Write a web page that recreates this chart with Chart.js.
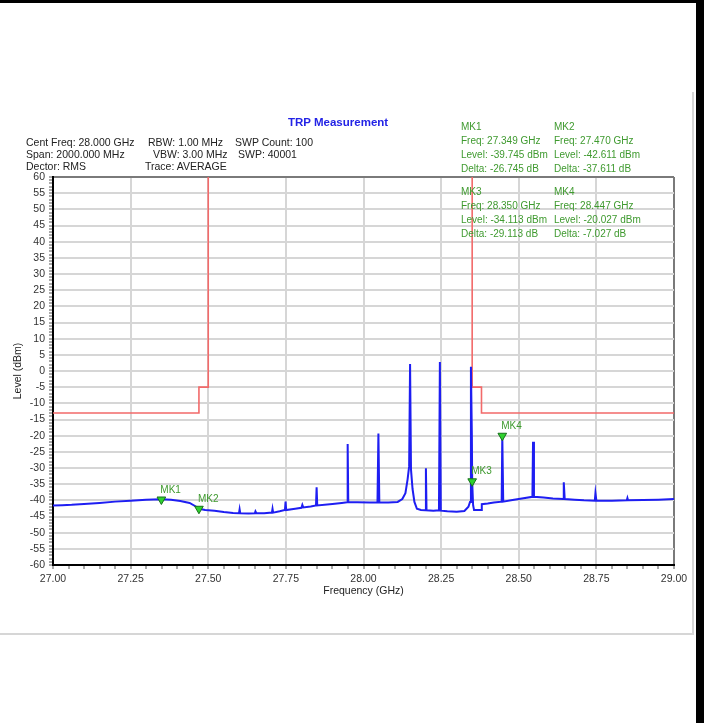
<!DOCTYPE html>
<html>
<head>
<meta charset="utf-8">
<script src="https://cdn.jsdelivr.net/npm/chart.js@4/dist/chart.umd.min.js"></script>
<style>
  html, body { margin: 0; padding: 0; background: #fff; }
  body { width: 704px; height: 723px; position: relative; overflow: hidden; font-family: "Liberation Sans", Arial, sans-serif; }
  #wrap { position: absolute; left: 0; top: 0; width: 704px; height: 723px; }
  .txt { position: absolute; white-space: pre; line-height: 12px; height: 12px; }
  .hdr { font-size: 10.5px; color: #222; }
  .mk { font-size: 10px; color: #3f9a2f; }
  #title { position: absolute; left: 288px; top: 116px; font-size: 11.5px; font-weight: bold; color: #2323e6; line-height: 13px; }
  #topbar { position: absolute; left: 0; top: 0; width: 704px; height: 3px; background: #000; }
  #rightbar { position: absolute; left: 696px; top: 0; width: 8px; height: 723px; background: #000; }
  #panel { position: absolute; left: -2px; top: 92px; width: 696px; height: 543px; box-sizing: border-box;
           border-right: 2px solid #d6d6d6; border-bottom: 2px solid #d6d6d6; }
</style>
</head>
<body>
<div id="panel"></div>
<div id="wrap"><canvas id="trp-chart"></canvas></div>
<div id="title">TRP Measurement</div>
<div id="topbar"></div>
<div id="rightbar"></div>
<script>
var traceFreq = [
  27.000, 27.030, 27.060, 27.100, 27.150, 27.200, 27.250, 27.300, 27.349, 27.380,
  27.410, 27.440, 27.460, 27.470, 27.490, 27.520, 27.550, 27.580, 27.599, 27.601,
  27.603, 27.630, 27.650, 27.652, 27.655, 27.680, 27.705, 27.707, 27.709, 27.730,
  27.747, 27.749, 27.751, 27.780, 27.800, 27.803, 27.806, 27.830, 27.847, 27.849,
  27.851, 27.900, 27.930, 27.947, 27.949, 27.951, 27.980, 28.020, 28.045, 28.048,
  28.051, 28.080, 28.110, 28.125, 28.135, 28.142, 28.147, 28.150, 28.153, 28.158,
  28.164, 28.172, 28.185, 28.199, 28.201, 28.203, 28.225, 28.243, 28.246, 28.249,
  28.270, 28.300, 28.325, 28.338, 28.343, 28.346, 28.349, 28.350, 28.353, 28.356,
  28.370, 28.379, 28.381, 28.400, 28.420, 28.445, 28.447, 28.450, 28.480, 28.510,
  28.544, 28.546, 28.549, 28.580, 28.610, 28.643, 28.645, 28.648, 28.680, 28.710,
  28.745, 28.747, 28.750, 28.800, 28.848, 28.850, 28.852, 28.900, 28.950, 29.000
];
var traceLevel = [
  -41.6, -41.5, -41.4, -41.1, -40.8, -40.4, -40.1, -39.8, -39.7, -39.8,
  -40.2, -40.8, -41.9, -42.6, -43.0, -43.2, -43.6, -43.9, -44.0, -42.8,
  -44.0, -44.1, -44.0, -43.4, -44.0, -44.0, -43.8, -42.6, -43.8, -43.4,
  -43.0, -40.4, -43.0, -42.6, -42.3, -41.4, -42.2, -41.9, -41.6, -36.0,
  -41.6, -41.1, -40.8, -40.6, -22.6, -40.6, -40.6, -40.7, -40.7, -19.3,
  -40.7, -40.7, -40.5, -39.6, -37.8, -33.5, -29.5, 2.2, -30.5, -36.5,
  -40.5, -42.6, -43.0, -43.1, -30.1, -43.1, -43.2, -43.1, 2.8, -43.2,
  -43.4, -43.5, -43.3, -42.0, -40.5, 1.3, -20.0, -34.1, -41.5, -43.0,
  -43.0, -43.0, -41.2, -41.0, -40.7, -40.4, -20.0, -40.4, -39.9, -39.4,
  -38.9, -21.9, -38.9, -39.1, -39.4, -39.6, -34.4, -39.6, -39.8, -40.0,
  -40.1, -37.8, -40.1, -40.1, -40.0, -39.3, -40.0, -39.9, -39.8, -39.6
];

// emission limit mask
var limitFreq = [27.0, 27.47, 27.47, 27.5, 27.5, 28.35, 28.35, 28.38, 28.38, 29.0];
var limitLevel = [-13, -13, -5, -5, 70, 70, -5, -5, -13, -13];

// markers
var markerNames = ['MK1', 'MK2', 'MK3', 'MK4'];
var markerFreq = [27.349, 27.470, 28.350, 28.447];
var markerLevel = [-39.745, -42.611, -34.113, -20.027];
var markerDelta = [-26.745, -37.611, -29.113, -7.027];

// header settings text
var settingsText = [
  'Cent Freq: 28.000 GHz', 'Span: 2000.000 MHz', 'Dector: RMS',
  'RBW: 1.00 MHz', 'VBW: 3.00 MHz', 'Trace: AVERAGE',
  'SWP Count: 100', 'SWP: 40001'
];

var xMin = 27, xMax = 29, yMin = -60, yMax = 60;

function addText(cls, text, x, yc) {
  var d = document.createElement('div');
  d.className = 'txt ' + cls;
  d.textContent = text;
  d.style.left = x + 'px';
  d.style.top = (yc - 6) + 'px';
  document.body.appendChild(d);
}

// settings block
var setPos = [[26, 142], [26, 154], [26, 166], [148, 142], [153, 154], [145, 166], [235, 142], [238, 154]];
settingsText.forEach(function (t, i) { addText('hdr', t, setPos[i][0], setPos[i][1]); });

// marker readout blocks
var mkCol = [461, 554, 461, 554];
var mkTop = [127, 127, 192, 192];
markerNames.forEach(function (n, i) {
  var x = mkCol[i], y = mkTop[i];
  addText('mk', n, x, y);
  addText('mk', 'Freq: ' + markerFreq[i].toFixed(3) + ' GHz', x, y + 14);
  addText('mk', 'Level: ' + markerLevel[i].toFixed(3) + ' dBm', x, y + 28);
  addText('mk', 'Delta: ' + markerDelta[i].toFixed(3) + ' dB', x, y + 42);
});

function pts(xs, ys) {
  return xs.map(function (x, i) { return { x: x, y: ys[i] }; });
}

var markerLabels = {
  id: 'markerLabels',
  afterDatasetsDraw: function (chart) {
    var ctx = chart.ctx, xs = chart.scales.x, ys = chart.scales.y;
    ctx.save();
    ctx.font = '10px "Liberation Sans", Arial, sans-serif';
    ctx.fillStyle = '#3f9a2f';
    ctx.textAlign = 'left';
    ctx.textBaseline = 'alphabetic';
    markerNames.forEach(function (n, i) {
      var px = xs.getPixelForValue(markerFreq[i]);
      var py = ys.getPixelForValue(markerLevel[i]);
      ctx.fillText(n, px - 1, py - 7);
    });
    ctx.restore();
  }
};

var fontSpec = { family: '"Liberation Sans", Arial, sans-serif', size: 10.5 };

var trpChart = new Chart(document.getElementById('trp-chart').getContext('2d'), {
  type: 'line',
  data: {
    datasets: [
      {
        label: 'Markers',
        data: pts(markerFreq, markerLevel),
        showLine: false,
        pointStyle: 'triangle',
        rotation: 180,
        pointRadius: 5,
        backgroundColor: '#2fd12f',
        borderColor: '#17701a',
        borderWidth: 1
      },
      {
        label: 'Trace',
        data: pts(traceFreq, traceLevel),
        borderColor: '#1e1ef2',
        borderWidth: 2,
        pointRadius: 0,
        tension: 0
      },
      {
        label: 'Limit',
        data: pts(limitFreq, limitLevel),
        borderColor: '#f26a6a',
        borderWidth: 1.6,
        pointRadius: 0,
        tension: 0
      }
    ]
  },
  options: {
    responsive: true,
    maintainAspectRatio: false,
    animation: false,
    devicePixelRatio: 1,
    events: [],
    layout: { padding: { left: 7, top: 177, right: 30, bottom: 124 } },
    plugins: {
      legend: { display: false },
      tooltip: { enabled: false },
      title: { display: false }
    },
    scales: {
      x: {
        type: 'linear',
        min: xMin,
        max: xMax,
        afterFit: function (s) { s.height = 34; },
        border: { color: '#000', width: 2 },
        grid: {
          tickLength: 4,
          tickColor: '#555',
          tickWidth: 1,
          color: function (c) {
            var v = c.tick.value;
            if (Math.abs(v - xMax) < 1e-6) return '#7a7a7a';
            return Math.abs(v * 4 - Math.round(v * 4)) < 1e-6 ? '#d6d6d6' : 'rgba(0,0,0,0)';
          },
          lineWidth: 2
        },
        ticks: {
          stepSize: 0.05,
          autoSkip: false,
          maxRotation: 0,
          padding: 4,
          color: '#333',
          font: fontSpec,
          callback: function (v) {
            return Math.abs(v * 4 - Math.round(v * 4)) < 1e-6 ? Number(v).toFixed(2) : '';
          }
        },
        title: {
          display: true,
          text: 'Frequency (GHz)',
          color: '#222',
          font: fontSpec,
          padding: { top: 0, bottom: 2 }
        }
      },
      y: {
        min: yMin,
        max: yMax,
        afterFit: function (s) { s.width = 46; },
        border: { color: '#000', width: 2 },
        grid: {
          tickLength: 4,
          tickColor: '#555',
          tickWidth: 1,
          color: function (c) {
            var v = c.tick.value;
            if (v === yMax) return '#7a7a7a';
            return v % 5 === 0 ? '#d6d6d6' : 'rgba(0,0,0,0)';
          },
          lineWidth: 2
        },
        ticks: {
          stepSize: 1,
          autoSkip: false,
          padding: 4,
          color: '#333',
          font: fontSpec,
          callback: function (v) { return v % 5 === 0 ? String(v) : ''; }
        },
        title: {
          display: true,
          text: 'Level (dBm)',
          color: '#222',
          font: fontSpec,
          padding: { top: 5, bottom: 0 }
        }
      }
    }
  },
  plugins: [markerLabels]
});
</script>
</body>
</html>
